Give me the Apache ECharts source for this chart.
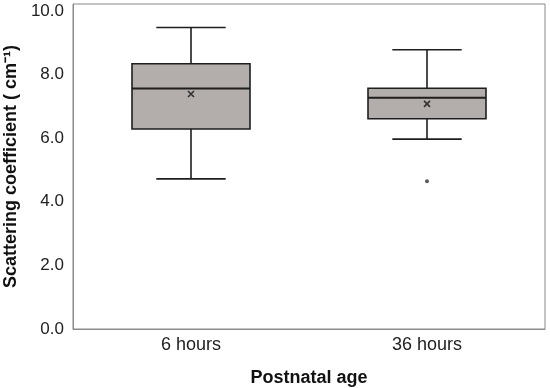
<!DOCTYPE html>
<html>
<head>
<meta charset="utf-8">
<script src="https://cdn.jsdelivr.net/npm/echarts@6/dist/echarts.min.js"></script>
<style>html,body{margin:0;padding:0;background:#fff}#c{width:550px;height:388px}</style>
</head>
<body>
<div id="c"></div>
<script>
var categories = ['6 hours', '36 hours'];
var lowWhisker = [4.72, 5.97];
var q1 = [6.29, 6.61];
var median = [7.56, 7.27];
var q3 = [8.34, 7.57];
var highWhisker = [9.48, 8.78];
var means = [7.39, 7.08];
var outliers = [[1, 4.65]];
var yTicks = [0, 2, 4, 6, 8, 10];

var boxData = categories.map(function (c, i) {
  return [i, lowWhisker[i], q1[i], median[i], q3[i], highWhisker[i]];
});
var meanData = categories.map(function (c, i) { return [i, means[i]]; });

var chart = echarts.init(document.getElementById('c'), null, {renderer: 'canvas'});
var font = '"Liberation Sans", Arial, sans-serif';

function renderBox(params, api) {
  var x = api.value(0);
  var band = api.size([1, 0])[0];
  var bw = band * 0.5;
  var cw = band * 0.147;
  var pLow = api.coord([x, api.value(1)]);
  var pQ1 = api.coord([x, api.value(2)]);
  var pMed = api.coord([x, api.value(3)]);
  var pQ3 = api.coord([x, api.value(4)]);
  var pHigh = api.coord([x, api.value(5)]);
  var cx = pQ1[0];
  var st = {stroke: '#1e1e1e', lineWidth: 1.6, fill: null};
  return {
    type: 'group',
    children: [
      {type: 'line', shape: {x1: cx, y1: pHigh[1], x2: cx, y2: pQ3[1]}, style: st},
      {type: 'line', shape: {x1: cx, y1: pQ1[1], x2: cx, y2: pLow[1]}, style: st},
      {type: 'line', shape: {x1: cx - cw, y1: pHigh[1], x2: cx + cw, y2: pHigh[1]}, style: st},
      {type: 'line', shape: {x1: cx - cw, y1: pLow[1], x2: cx + cw, y2: pLow[1]}, style: st},
      {type: 'rect', shape: {x: cx - bw / 2, y: pQ3[1], width: bw, height: pQ1[1] - pQ3[1]},
        style: {fill: '#b3aeab', stroke: '#1e1e1e', lineWidth: 1.6}},
      {type: 'line', shape: {x1: cx - bw / 2, y1: pMed[1], x2: cx + bw / 2, y2: pMed[1]},
        style: {stroke: '#1e1e1e', lineWidth: 2}}
    ]
  };
}

chart.setOption({
  animation: false,
  grid: {left: 73, right: 5, top: 4, bottom: 59, show: true, borderColor: '#8a8a8a', borderWidth: 1,
    containLabel: false, outerBoundsMode: 'none'},
  xAxis: {
    type: 'category',
    data: categories,
    boundaryGap: true,
    name: 'Postnatal age',
    nameLocation: 'middle',
    nameGap: 40,
    nameTextStyle: {fontFamily: font, fontSize: 18, fontWeight: 'bold', color: '#111'},
    axisLine: {show: true, lineStyle: {color: '#8a8a8a', width: 1}},
    axisTick: {show: false},
    axisLabel: {fontFamily: font, fontSize: 18, color: '#222', margin: 7},
    splitLine: {show: false}
  },
  yAxis: {
    type: 'value',
    min: 0,
    max: 10.22,
    interval: 2,
    name: 'Scattering coefficient ( cm\u207B\u00B9)',
    nameLocation: 'middle',
    nameGap: 49,
    nameTextStyle: {fontFamily: font, fontSize: 18, fontWeight: 'bold', color: '#111'},
    axisLine: {show: true, lineStyle: {color: '#8a8a8a', width: 1}},
    axisTick: {show: false},
    splitLine: {show: false},
    axisLabel: {
      fontFamily: font, fontSize: 17, color: '#222', margin: 9,
      showMaxLabel: false,
      formatter: function (v) { return yTicks.indexOf(v) >= 0 ? v.toFixed(1) : ''; }
    }
  },
  series: [
    {type: 'custom', renderItem: renderBox, data: boxData, encode: {x: 0, y: [1, 2, 3, 4, 5]}, z: 2},
    {type: 'scatter', data: meanData, symbol: 'path://M0,0L10,10M10,0L0,10', symbolSize: 6,
      itemStyle: {color: 'rgba(0,0,0,0)', borderColor: '#111', borderWidth: 1.6}, z: 5},
    {type: 'scatter', data: outliers, symbol: 'circle', symbolSize: 4,
      itemStyle: {color: '#333'}, z: 5}
  ]
});
</script>
</body>
</html>
